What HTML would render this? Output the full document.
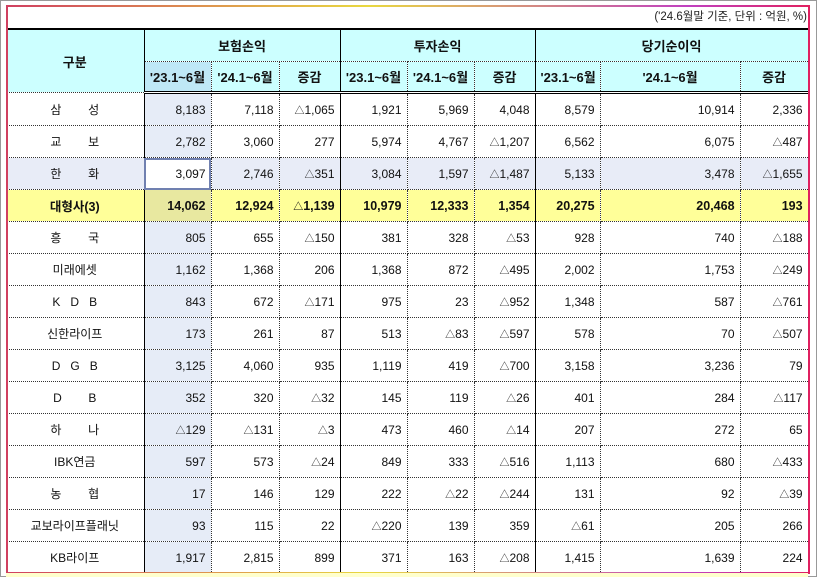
<!DOCTYPE html>
<html><head><meta charset="utf-8">
<style>
body{margin:0;width:817px;height:577px;overflow:hidden;background:#fff;font-family:"Liberation Sans","Noto Sans CJK KR",sans-serif;font-size:12px;color:#111;position:relative}
#frame{position:absolute;left:0;top:0;width:815px;height:575px;border:1px solid #999}
#title{position:absolute;right:10px;top:8px;font-size:11.5px;color:#222}
table{position:absolute;left:6px;top:28px;border-collapse:collapse;table-layout:fixed;width:802px}
td,th{padding:0 5px;height:31px;border-right:1px dotted #333;border-bottom:1px dotted #333;text-align:right;white-space:nowrap;overflow:hidden}
th{background:#ccffff;text-align:center;font-weight:bold;font-size:13px}
thead tr:first-child th{border-top:2px solid #000;height:31px}
thead tr:last-child th{border-bottom:3px double #000;height:29px}
.g{border-right:1px solid #000}
td.l{text-align:center;border-right:1px solid #000}
td.c1{background:#e6ecf7}
th.c1{background:#bfe8f6}
tr.hw td{background:#e8ecf7}
tr.hw td.sel{background:#fff;outline:2px solid #7080b0;outline-offset:-2px}
tr.big td{background:#ffff99;font-weight:bold;font-size:12.5px}
tr.big td.c1{background:#e8e8a0}
.t{font-size:10px}
#edge{position:absolute;left:6px;top:5px;width:800px;height:565px;border:2px solid;border-image:linear-gradient(90deg,#d04060,#e8d840 45%,#c040c0 85%,#e02060) 1;pointer-events:none}
#last{position:absolute;left:6px;top:573px;width:802px;height:4px;background:#ffffcc}
</style></head><body>
<div id="frame"></div>
<div id="title">('24.6월말 기준, 단위 : 억원, %)</div>
<table>
<colgroup><col style="width:138px"><col style="width:67px"><col style="width:68px"><col style="width:61px"><col style="width:67px"><col style="width:67px"><col style="width:61px"><col style="width:65px"><col style="width:140px"><col style="width:68px"></colgroup>
<thead>
<tr><th rowspan="2" class="g">구분</th><th colspan="3" class="g">보험손익</th><th colspan="3" class="g">투자손익</th><th colspan="3" class="g">당기순이익</th></tr>
<tr><th class="c1">'23.1~6월</th><th>'24.1~6월</th><th class="g">증감</th><th>'23.1~6월</th><th>'24.1~6월</th><th class="g">증감</th><th>'23.1~6월</th><th>'24.1~6월</th><th class="g">증감</th></tr>
</thead>
<tbody id="tb"></tbody>
</table>
<div id="edge"></div>
<div id="last"></div>
<script>
const names=["삼&nbsp;&nbsp;&nbsp;&nbsp;&nbsp;&nbsp;&nbsp;&nbsp;성","교&nbsp;&nbsp;&nbsp;&nbsp;&nbsp;&nbsp;&nbsp;&nbsp;보","한&nbsp;&nbsp;&nbsp;&nbsp;&nbsp;&nbsp;&nbsp;&nbsp;화","대형사(3)","흥&nbsp;&nbsp;&nbsp;&nbsp;&nbsp;&nbsp;&nbsp;&nbsp;국","미래에셋","K&nbsp;&nbsp;&nbsp;D&nbsp;&nbsp;&nbsp;B","신한라이프","D&nbsp;&nbsp;&nbsp;G&nbsp;&nbsp;&nbsp;B","D&nbsp;&nbsp;&nbsp;&nbsp;&nbsp;&nbsp;&nbsp;&nbsp;B","하&nbsp;&nbsp;&nbsp;&nbsp;&nbsp;&nbsp;&nbsp;&nbsp;나","IBK연금","농&nbsp;&nbsp;&nbsp;&nbsp;&nbsp;&nbsp;&nbsp;&nbsp;협","교보라이프플래닛","KB라이프"];
const insurance=[["8,183","7,118","△1,065"],["2,782","3,060","277"],["3,097","2,746","△351"],["14,062","12,924","△1,139"],["805","655","△150"],["1,162","1,368","206"],["843","672","△171"],["173","261","87"],["3,125","4,060","935"],["352","320","△32"],["△129","△131","△3"],["597","573","△24"],["17","146","129"],["93","115","22"],["1,917","2,815","899"]];
const investment=[["1,921","5,969","4,048"],["5,974","4,767","△1,207"],["3,084","1,597","△1,487"],["10,979","12,333","1,354"],["381","328","△53"],["1,368","872","△495"],["975","23","△952"],["513","△83","△597"],["1,119","419","△700"],["145","119","△26"],["473","460","△14"],["849","333","△516"],["222","△22","△244"],["△220","139","359"],["371","163","△208"]];
const netIncome=[["8,579","10,914","2,336"],["6,562","6,075","△487"],["5,133","3,478","△1,655"],["20,275","20,468","193"],["928","740","△188"],["2,002","1,753","△249"],["1,348","587","△761"],["578","70","△507"],["3,158","3,236","79"],["401","284","△117"],["207","272","65"],["1,113","680","△433"],["131","92","△39"],["△61","205","266"],["1,415","1,639","224"]];
const tb=document.getElementById('tb');
names.forEach((n,i)=>{
 const tr=document.createElement('tr');
 
 
 if(i===2)tr.className='hw';
 if(i===3)tr.className='big';
 let h='<td class="l">'+n+'</td>';
 [insurance[i],investment[i],netIncome[i]].forEach((g)=>{
  g.forEach((v,k)=>{
   let cls=[];
   if(g===insurance[i]&&k===0)cls.push('c1');
   if(i===2&&g===insurance[i]&&k===0)cls.push('sel');
   if(k===2)cls.push('g');
   const txt=v.replace('△','<span class="t">△</span>');
   h+='<td class="'+cls.join(' ')+'">'+txt+'</td>';
  });
 });
 tr.innerHTML=h;
 tb.appendChild(tr);
});
</script>
</body></html>
